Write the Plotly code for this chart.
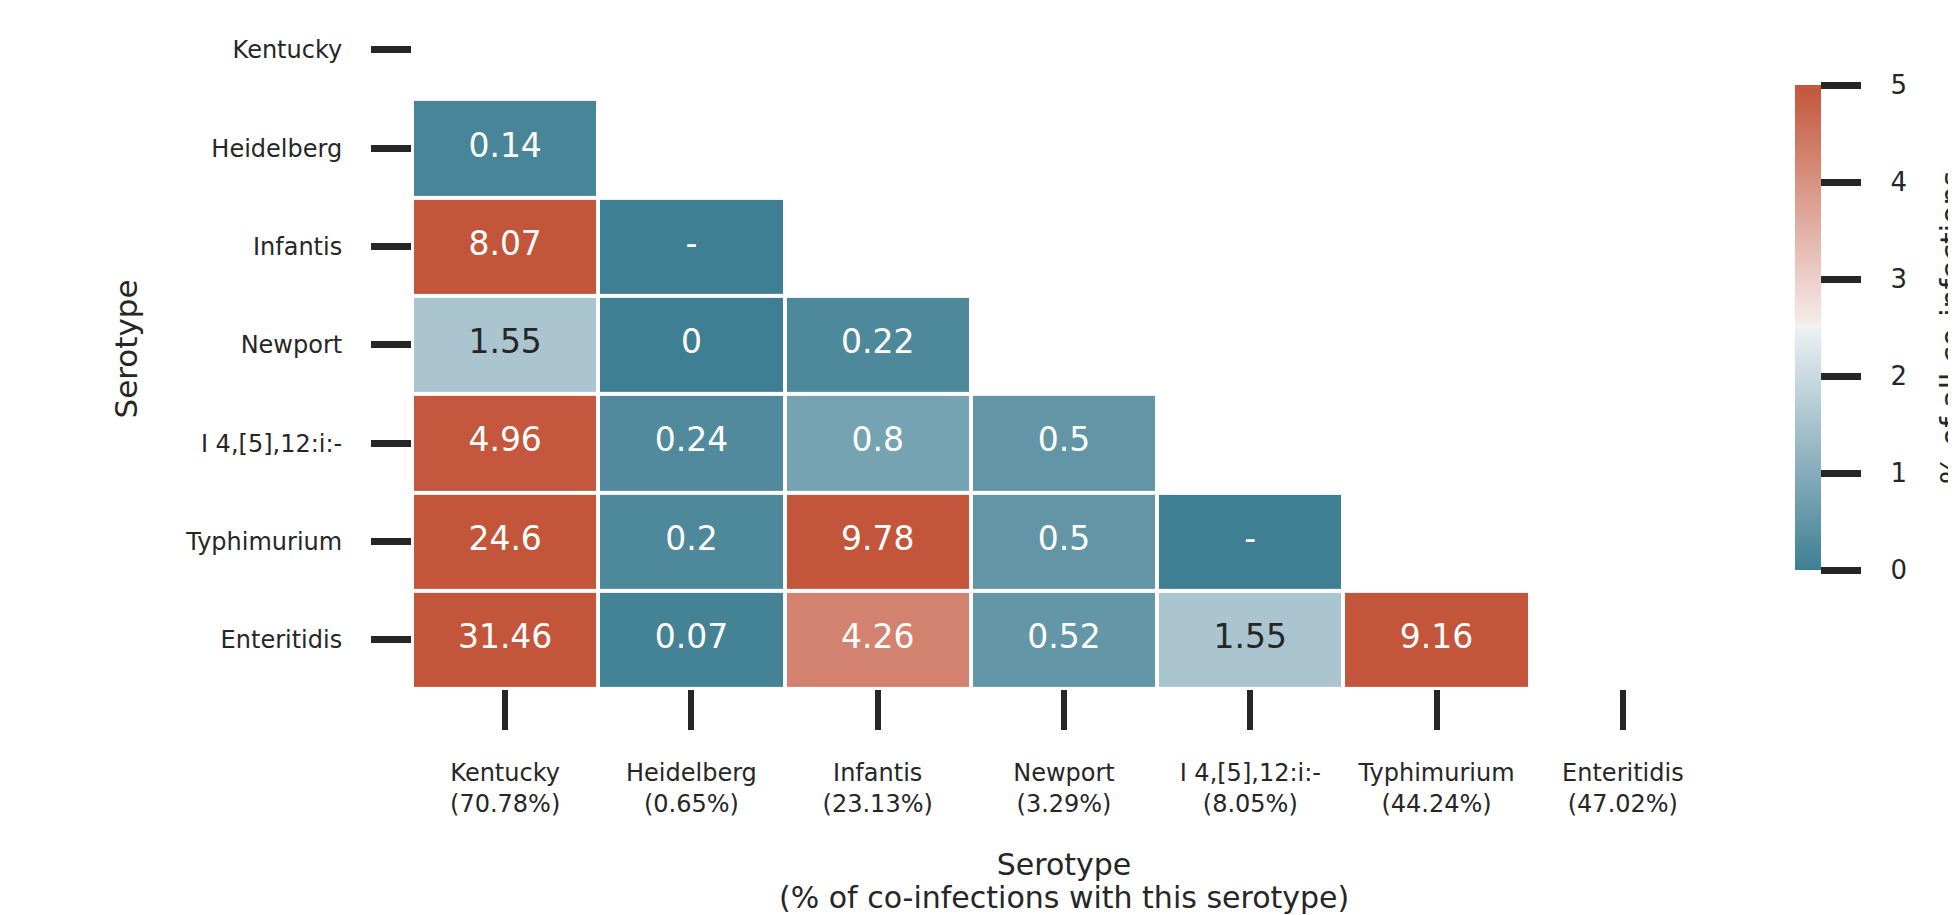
import plotly.graph_objects as go

serotypes = ["Kentucky", "Heidelberg", "Infantis", "Newport", "I 4,[5],12:i:-", "Typhimurium", "Enteritidis"]
pct_with = ["70.78%", "0.65%", "23.13%", "3.29%", "8.05%", "44.24%", "47.02%"]

# lower-triangle values per row (row i has i entries); None = "-" (shown as 0 colour)
row_heidelberg = [0.14]
row_infantis = [8.07, None]
row_newport = [1.55, 0, 0.22]
row_i4 = [4.96, 0.24, 0.8, 0.5]
row_typhimurium = [24.6, 0.2, 9.78, 0.5, None]
row_enteritidis = [31.46, 0.07, 4.26, 0.52, 1.55, 9.16]
rows = [[], row_heidelberg, row_infantis, row_newport, row_i4, row_typhimurium, row_enteritidis]

cbar_ticks = [0, 1, 2, 3, 4, 5]

zmin, zmax = 0, 5
low = (63, 127, 147)
low_l = (235, 240, 243)
mid = (242, 242, 242)
high_l = (246, 237, 235)
high = (195, 85, 58)
stops = [(0.0, low), (0.497, low_l), (0.5, mid), (0.503, high_l), (1.0, high)]
colorscale = [[p, "rgb(%d,%d,%d)" % c] for p, c in stops]


def color_at(v):
    f = min(max((v - zmin) / (zmax - zmin), 0), 1)
    for (p0, c0), (p1, c1) in zip(stops[:-1], stops[1:]):
        if p0 <= f <= p1:
            t = (f - p0) / (p1 - p0) if p1 > p0 else 0
            return tuple(c0[k] + t * (c1[k] - c0[k]) for k in range(3))
    return stops[-1][1]


def rel_lum(c):
    out = []
    for ch in c:
        x = ch / 255
        out.append(x / 12.92 if x <= 0.03928 else ((x + 0.055) / 1.055) ** 2.4)
    return 0.2126 * out[0] + 0.7152 * out[1] + 0.0722 * out[2]


n = len(serotypes)
z = [[None] * n for _ in range(n)]
tx, ty, tt, tc = [], [], [], []
for i, r in enumerate(rows):
    for j, v in enumerate(r):
        val = 0 if v is None else v
        z[i][j] = val
        tx.append(serotypes[j])
        ty.append(serotypes[i])
        tt.append("-" if v is None else ("%g" % v))
        tc.append("#262626" if rel_lum(color_at(val)) > 0.408 else "white")

xt = [f"{s}<br>({p})" for s, p in zip(serotypes, pct_with)]
font = "DejaVu Sans, Liberation Sans, sans-serif"
ink = "#262626"
pre = "\u00a0" * 3
suf = "\u00a0" * 3

# page has an 8px body margin; figure sized to fit the 1956x915 window
W, H = 1948, 907
L, R, T, B = 404, 240, 1, 226

fig = go.Figure()
fig.add_trace(go.Heatmap(
    x=serotypes, y=serotypes, z=z, zmin=zmin, zmax=zmax,
    colorscale=colorscale, xgap=4, ygap=4, hoverongaps=False,
    colorbar=dict(
        x=1.0606, xanchor="left", xpad=0, y=0.5316, yanchor="middle", ypad=0,
        len=485, lenmode="pixels", thickness=26, outlinewidth=0,
        tickvals=cbar_ticks, ticktext=[pre + str(t) + suf for t in cbar_ticks],
        ticks="outside", ticklen=40, tickwidth=7, tickcolor=ink,
        tickfont=dict(family=font, size=26, color=ink),
        title=dict(text="% of all co-infections", side="right", font=dict(family=font, size=30, color=ink)),
    ),
))
fig.add_trace(go.Scatter(
    x=tx, y=ty, text=tt, mode="text", hoverinfo="skip", showlegend=False,
    textfont=dict(family=font, size=33, color=tc),
))

fig.update_layout(
    width=W, height=H,
    margin=dict(l=L, r=R, t=T, b=B, autoexpand=False),
    paper_bgcolor="white", plot_bgcolor="white",
    showlegend=False,
    annotations=[dict(
        text="(% of co-infections with this serotype)", xref="paper", yref="paper",
        x=0.5, y=-(897 - 8 - (H - B)) / (H - T - B), xanchor="center", yanchor="middle",
        showarrow=False, font=dict(family=font, size=30, color=ink),
    )],
)
fig.update_xaxes(
    type="category", categoryorder="array", categoryarray=serotypes,
    tickvals=serotypes, ticktext=xt, showgrid=False, zeroline=False, showline=False,
    ticks="outside", ticklen=40, tickwidth=6, tickcolor=ink, ticklabelstandoff=22,
    tickfont=dict(family=font, size=24, color=ink), automargin=False,
    title=dict(text="Serotype", standoff=36, font=dict(family=font, size=30, color=ink)),
    range=[-0.5, 6.5],
)
fig.update_yaxes(
    type="category", categoryorder="array", categoryarray=serotypes,
    showgrid=False, zeroline=False, showline=False,
    range=[6.5, -0.417],
    ticks="outside", ticklen=40, tickwidth=7, tickcolor=ink, ticklabelstandoff=24,
    tickfont=dict(family=font, size=24, color=ink), automargin=False,
    title=dict(text="Serotype", standoff=38, font=dict(family=font, size=31, color=ink)),
)

fig.write_html("out.html")
